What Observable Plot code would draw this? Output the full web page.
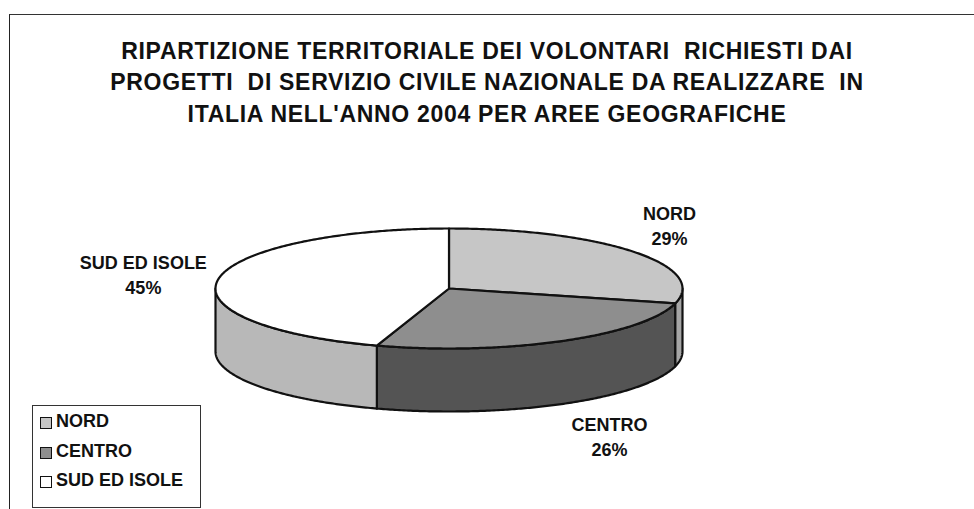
<!DOCTYPE html>
<html>
<head>
<meta charset="utf-8">
<script src="https://cdn.jsdelivr.net/npm/d3@7"></script>
<script src="https://cdn.jsdelivr.net/npm/@observablehq/plot@0.6"></script>
<style>
  html, body { margin: 0; padding: 0; background: #fff; }
  #wrap { position: relative; width: 974px; height: 509px; overflow: hidden; background: #fff;
          font-family: "Liberation Sans", Arial, sans-serif; font-weight: bold; color: #111; }
  #frame { position: absolute; left: 9px; top: 14px; width: 1200px; height: 800px;
           border-left: 1.5px solid #222; border-top: 1.5px solid #333; }
  #chart { position: absolute; left: 0; top: 0; }
  #title { position: absolute; left: 0; width: 974px; top: 35.5px; text-align: center;
           font-size: 23px; line-height: 31.5px; letter-spacing: 0.7px; }
  #legend { position: absolute; left: 32px; top: 405px; width: 169px; height: 103px;
            border: 1px solid #333; box-sizing: border-box; padding-top: 1px; }
  .row { position: relative; height: 29.5px; line-height: 29.5px; font-size: 18px; padding-left: 23px; white-space: nowrap; }
  .sw { position: absolute; left: 7px; top: 10px; width: 10px; height: 10px; border: 1.5px solid #111; }
</style>
</head>
<body>
<div id="wrap">
  <div id="frame"></div>
  <div id="chart"></div>
  <div id="title"></div>
  <div id="legend"></div>
</div>
<script>
// ---- data ----
const titleLines = [
  "RIPARTIZIONE TERRITORIALE DEI VOLONTARI\u00a0 RICHIESTI DAI",
  "PROGETTI\u00a0 DI SERVIZIO CIVILE NAZIONALE DA REALIZZARE\u00a0 IN",
  "ITALIA NELL'ANNO 2004 PER AREE GEOGRAFICHE"
];
const categories = ["NORD", "CENTRO", "SUD ED ISOLE"];
const shares = [29, 26, 45];

// ---- styles ----
const topColors = ["#c6c6c6", "#8e8e8e", "#ffffff"];
const sideColors = ["#a6a6a6", "#545454", "#b8b8b8"];
const legendColors = ["#c6c6c6", "#8e8e8e", "#ffffff"];
const labelNudge = [[36, -27], [48, 31], [-75, -6]]; // px offsets from rim point
const depth = 1.05; // wall height in units of the vertical radius

// ---- geometry from data ----
const total = d3.sum(shares);
const slices = [];
let acc = 0;
categories.forEach((c, i) => {
  const a0 = acc / total * 2 * Math.PI;
  acc += shares[i];
  const a1 = acc / total * 2 * Math.PI;
  slices.push({cat: c, share: shares[i], a0, a1, i});
});

function arc(a0, a1, dy = 0) {
  const n = Math.max(2, Math.ceil(Math.abs(a1 - a0) / 0.01));
  const pts = [];
  for (let k = 0; k <= n; k++) {
    const a = a0 + (a1 - a0) * k / n;
    pts.push({x: Math.sin(a), y: Math.cos(a) - dy});
  }
  return pts;
}

const walls = [];
const tops = [];
for (const s of slices) {
  const lo = Math.max(s.a0, Math.PI / 2), hi = Math.min(s.a1, 3 * Math.PI / 2);
  if (hi > lo) {
    const pts = [...arc(lo, hi), ...arc(hi, lo, depth)];
    pts.push(pts[0]);
    walls.push({pts, color: sideColors[s.i]});
  }
  const tp = [{x: 0, y: 0}, ...arc(s.a0, s.a1), {x: 0, y: 0}];
  tops.push({pts: tp, color: topColors[s.i]});
}

const labels = slices.map(s => {
  const m = (s.a0 + s.a1) / 2;
  const front = Math.cos(m) < 0;
  return {
    x: Math.sin(m),
    y: Math.cos(m) - (front ? depth : 0),
    text: `${s.cat}\n${Math.round(s.share / total * 100)}%`,
    i: s.i
  };
});

const marks = [
  ...walls.map(w => Plot.line(w.pts, {x: "x", y: "y", fill: w.color, stroke: "#111", strokeWidth: 2.2, strokeLinejoin: "round"})),
  ...tops.map(t => Plot.line(t.pts, {x: "x", y: "y", fill: t.color, stroke: "#111", strokeWidth: 2.2, strokeLinejoin: "round"})),
  ...labels.map(l => Plot.text([l], {x: "x", y: "y", text: "text", dx: labelNudge[l.i][0], dy: labelNudge[l.i][1],
      fontSize: 18, fontWeight: "bold", lineHeight: 1.4, fill: "#111", textAnchor: "middle", lineAnchor: "middle"}))
];

const chart = Plot.plot({
  width: 974, height: 509,
  margin: 0,
  x: {domain: [-1, 1], range: [215, 682], axis: null},
  y: {domain: [1, -1 - depth], range: [228, 228 + 60 * (2 + depth)], axis: null},
  style: {background: "transparent", fontFamily: "'Liberation Sans', Arial, sans-serif", overflow: "visible"},
  marks
});
document.getElementById("chart").appendChild(chart);

// title
const t = document.getElementById("title");
titleLines.forEach(l => { const d = document.createElement("div"); d.textContent = l; t.appendChild(d); });

// legend
const lg = document.getElementById("legend");
categories.forEach((c, i) => {
  const r = document.createElement("div"); r.className = "row";
  const sw = document.createElement("span"); sw.className = "sw"; sw.style.background = legendColors[i];
  r.appendChild(sw); r.appendChild(document.createTextNode(c));
  lg.appendChild(r);
});
</script>
</body>
</html>
